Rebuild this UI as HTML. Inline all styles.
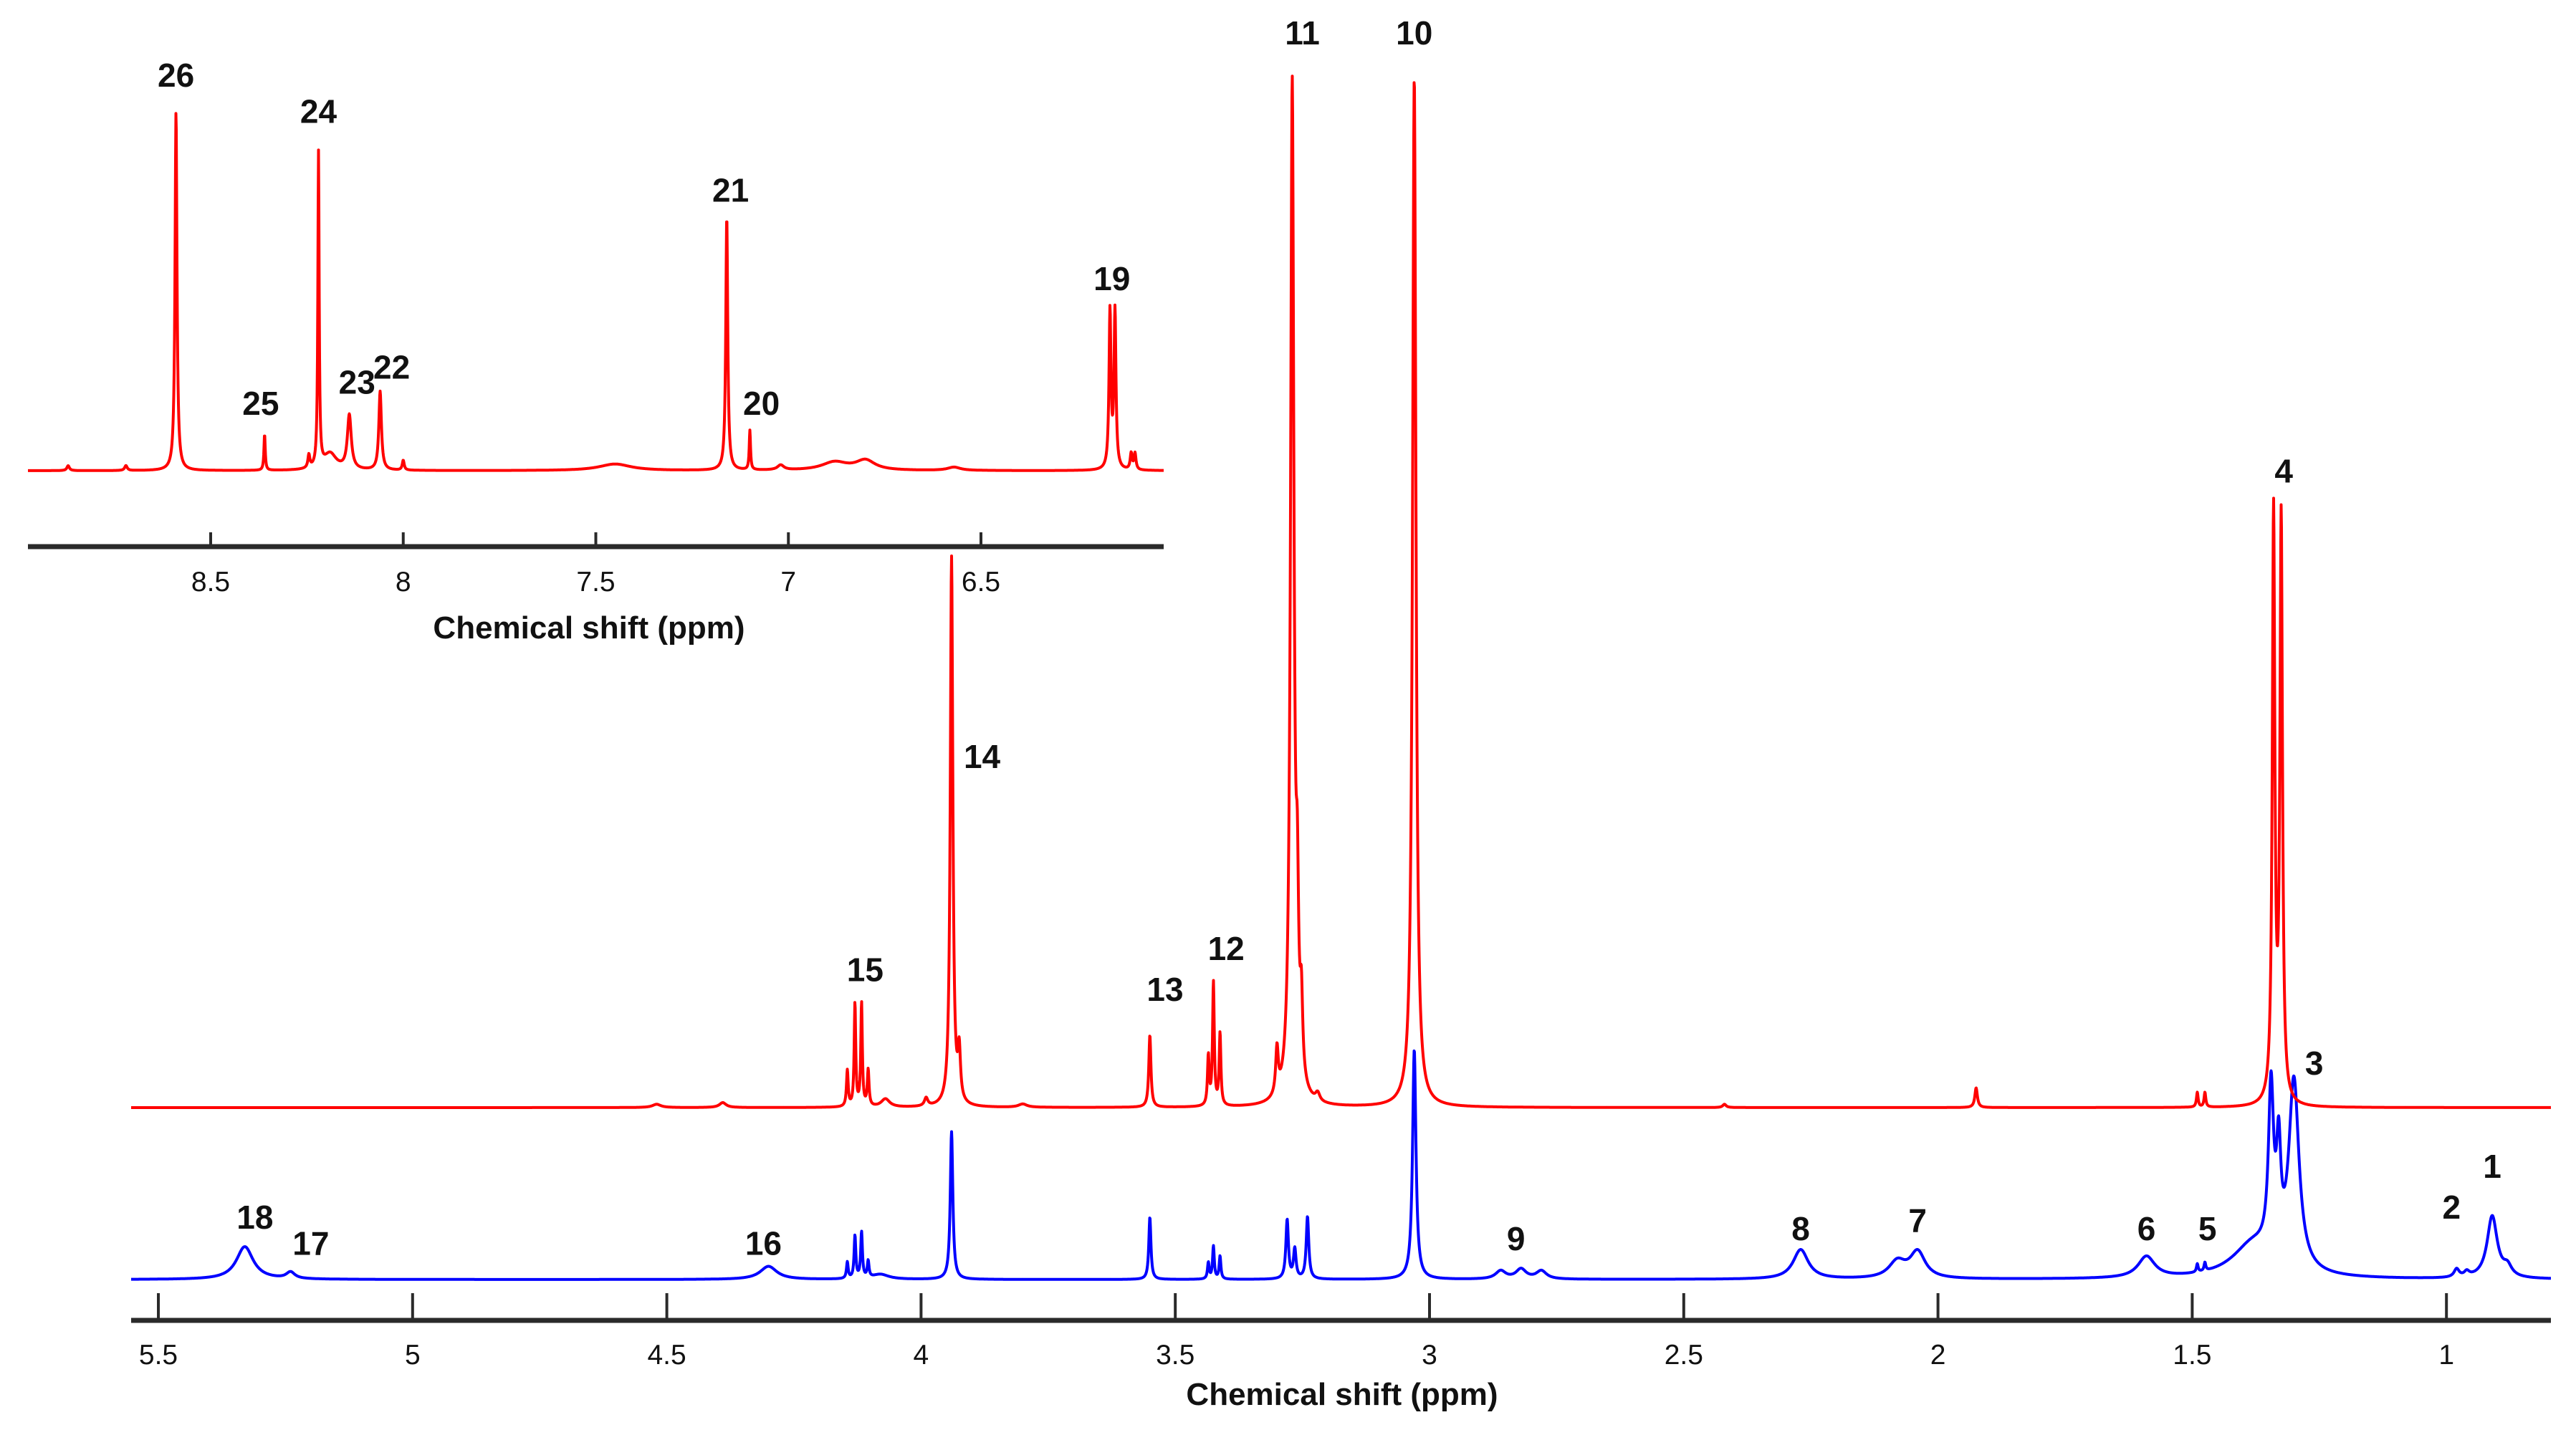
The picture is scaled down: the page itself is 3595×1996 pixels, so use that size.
<!DOCTYPE html>
<html><head><meta charset="utf-8"><style>
html,body{margin:0;padding:0;background:#fff;}
svg{display:block;}
text{font-family:"Liberation Sans",Arial,sans-serif;fill:#111;}
.lbl{font-weight:bold;font-size:46px;text-anchor:middle;}
.tick{font-size:39px;text-anchor:middle;}
.title{font-weight:bold;font-size:44px;text-anchor:middle;}
</style></head><body>
<svg id="chart" width="3595" height="1996" viewBox="0 0 3595 1996" xmlns="http://www.w3.org/2000/svg">
<g id="main-axis"></g>
<g id="inset-axis"></g>
<g id="series"></g>
<g id="labels"></g>
</svg>
<script>
// ---- data ----
const mainTicks = [5.5,5,4.5,4,3.5,3,2.5,2,1.5,1];
const mainTickLabels = ["5.5","5","4.5","4","3.5","3","2.5","2","1.5","1"];
const insetTicks = [8.5,8,7.5,7,6.5];
const insetTickLabels = ["8.5","8","7.5","7","6.5"];
// peaks: [ppm, intensity, halfwidth ppm]
const redMainPeaks = [[4.52,2,0.01],[4.39,3,0.008],[4.145,22,0.002],[4.13,63,0.0018],[4.117,63,0.0018],[4.104,22,0.002],[4.07,5,0.01],[3.99,5,0.004],[3.94,335,0.003],[3.925,30,0.003],[3.80,2,0.01],[3.55,44,0.0025],[3.435,30,0.002],[3.425,75,0.002],[3.412,44,0.002],[3.30,28,0.003],[3.27,620,0.004],[3.26,90,0.003],[3.252,45,0.003],[3.22,5,0.005],[3.03,628,0.004],[2.42,2,0.004],[1.925,12,0.003],[1.49,9,0.002],[1.475,9,0.002],[1.34,358,0.003],[1.325,354,0.003]];
const blueMainPeaks = [[5.33,20,0.02],[5.24,4,0.01],[4.30,8,0.02],[4.145,10,0.002],[4.13,26,0.002],[4.117,28,0.002],[4.104,10,0.002],[4.08,3,0.02],[3.94,90,0.003],[3.55,38,0.0025],[3.435,10,0.002],[3.425,20,0.002],[3.412,14,0.002],[3.28,36,0.003],[3.265,18,0.003],[3.24,38,0.003],[3.03,140,0.004],[2.86,5,0.012],[2.82,6,0.012],[2.78,5,0.012],[2.27,18,0.018],[2.08,10,0.02],[2.04,16,0.018],[1.59,13,0.02],[1.49,5,0.002],[1.475,5,0.002],[1.38,20,0.05],[1.345,100,0.006],[1.33,60,0.005],[1.30,115,0.012],[0.98,5,0.006],[0.96,3,0.006],[0.91,38,0.012],[0.88,6,0.01]];
const insetPeaks = [[8.87,3,0.004],[8.72,3,0.004],[8.59,219,0.003],[8.36,22,0.002],[8.245,8,0.003],[8.22,192,0.002],[8.19,10,0.02],[8.14,33,0.006],[8.06,48,0.004],[8.00,6,0.003],[7.45,4,0.05],[7.16,155,0.003],[7.10,24,0.002],[7.02,3,0.01],[6.88,5,0.04],[6.8,6,0.03],[6.57,2,0.02],[6.165,96,0.003],[6.152,96,0.003],[6.11,10,0.003],[6.10,10,0.003]];
const mainLabelText = ["11","10","14","15","13","12","4","3","18","17","16","9","8","7","6","5","2","1"];
const mainLabelPpm  = [3.25,3.03,3.88,4.11,3.52,3.40,1.32,1.26,5.31,5.20,4.31,2.83,2.27,2.04,1.59,1.47,0.99,0.91];
const mainLabelInt  = [655,655,214,84,72,97,388,27,38,22,22,25,31,36,31,31,44,69];
const mainLabelRow  = ["red","red","red","red","red","red","red","red","blue","blue","blue","blue","blue","blue","blue","blue","blue","blue"];
const insetLabelText = ["26","24","21","19","25","23","22","20"];
const insetLabelPpm  = [8.59,8.22,7.15,6.16,8.37,8.12,8.03,7.07];
const insetLabelInt  = [241,219,171,117,41,54,63,41];

// ---- scales ----
const S = 2.29;
const mainX = p => 221 + (5.5 - p) * 709.6;
const insetX = p => 294 + (8.5 - p) * 537.5;
const mainInv = x => 5.5 - (x-221)/709.6;
const insetInv = x => 8.5 - (x-294)/537.5;
const redBase = 1546, blueBase = 1786, insetBase = 657;
const NS = "http://www.w3.org/2000/svg";
function mk(tag, attrs, parent){const e=document.createElementNS(NS,tag);for(const k in attrs)e.setAttribute(k,attrs[k]);parent.appendChild(e);return e;}
function spec(peaks,p){let s=0;for(const q of peaks){const d=p-q[0];s+=q[1]*q[2]*q[2]/(d*d+q[2]*q[2]);}return s;}
function drawSpec(peaks, x0, x1, inv, base, color, name){
  let d="";
  for(let x=x0;x<=x1;x+=0.5){const p=inv(x);const y=base-spec(peaks,p)*S;d+=(d?"L":"M")+x.toFixed(1)+","+y.toFixed(1);}
  const path=mk("path",{d:d,fill:"none",stroke:color,"stroke-width":4,"stroke-linejoin":"round"},document.getElementById("series"));
  
  
}
drawSpec(insetPeaks, 39, 1624, insetInv, insetBase, "#ff0000", "inset-red-spectrum");
drawSpec(blueMainPeaks, 183, 3560, mainInv, blueBase, "#0000ff", "blue-spectrum");
drawSpec(redMainPeaks, 183, 3560, mainInv, redBase, "#ff0000", "red-spectrum");

// axes
const ma=document.getElementById("main-axis");
const ml=mk("line",{x1:183,x2:3560,y1:1843,y2:1843,stroke:"#2a2a2a","stroke-width":7},ma);


mainTicks.forEach((t,i)=>{
  const x=mainX(t);
  const tk=mk("line",{x1:x,x2:x,y1:1842,y2:1805,stroke:"#2a2a2a","stroke-width":4},ma);
  
  
  const tx=mk("text",{x:x,y:1904,class:"tick"},ma);tx.textContent=mainTickLabels[i];
  
  
});
const mt=mk("text",{x:1873,y:1961,class:"title"},ma);mt.textContent="Chemical shift (ppm)";



const ia=document.getElementById("inset-axis");
const il=mk("line",{x1:39,x2:1624,y1:763,y2:763,stroke:"#2a2a2a","stroke-width":7},ia);


insetTicks.forEach((t,i)=>{
  const x=insetX(t);
  const tk=mk("line",{x1:x,x2:x,y1:762,y2:743,stroke:"#2a2a2a","stroke-width":4},ia);
  
  
  const tx=mk("text",{x:x,y:825,class:"tick"},ia);tx.textContent=insetTickLabels[i];
  
  
});
const it=mk("text",{x:822,y:891,class:"title"},ia);it.textContent="Chemical shift (ppm)";



// labels
const lg=document.getElementById("labels");
mainLabelText.forEach((s,i)=>{
  const base = mainLabelRow[i]==="red"?redBase:blueBase;
  const t=mk("text",{x:mainX(mainLabelPpm[i]),y:base-mainLabelInt[i]*S+16,class:"lbl"},lg);t.textContent=s;
  
  
});
insetLabelText.forEach((s,i)=>{
  const t=mk("text",{x:insetX(insetLabelPpm[i]),y:insetBase-insetLabelInt[i]*S+16,class:"lbl"},lg);t.textContent=s;
  
  
});
</script>
</body></html>
